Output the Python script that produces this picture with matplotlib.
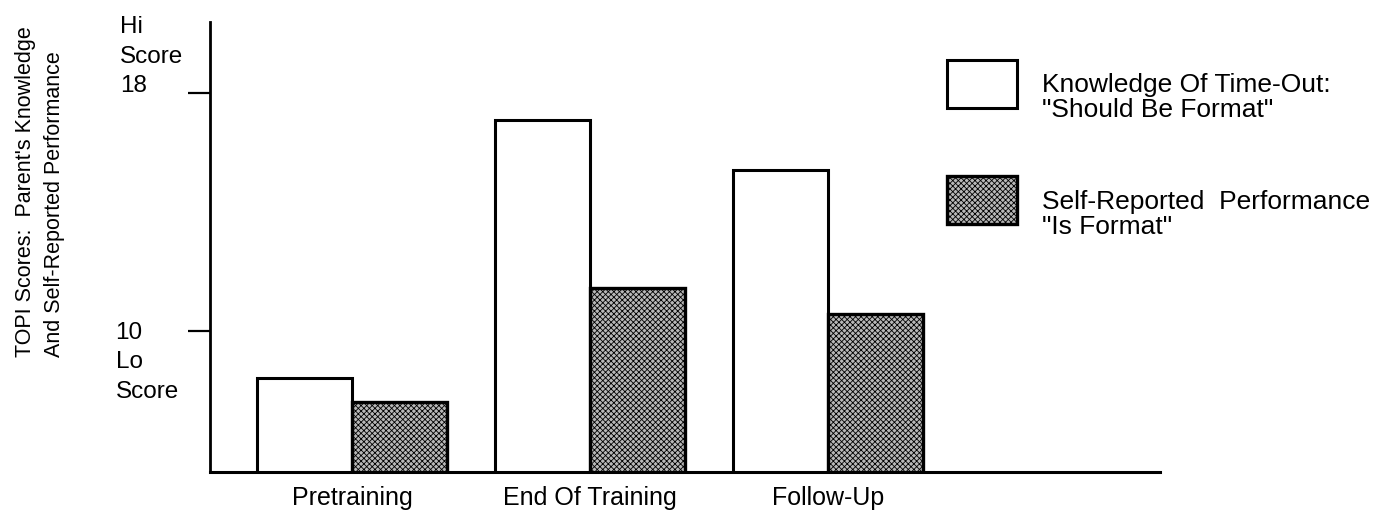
import numpy as np
import matplotlib
matplotlib.use("Agg")
import matplotlib.pyplot as plt
from matplotlib.patches import Rectangle
from matplotlib.legend_handler import HandlerPatch

plt.rcParams['font.family'] = ['Liberation Sans', 'DejaVu Sans']
plt.rcParams['hatch.linewidth'] = 0.6
plt.rcParams['hatch.color'] = '#333333'

# data
phases = ["Pretraining", "End Of Training", "Follow-Up"]
should_be = [8.4, 17.1, 15.4]   # knowledge of time-out
is_format = [7.6, 11.45, 10.55]  # self-reported performance
series_labels = ['Knowledge Of Time-Out:\n"Should Be Format"',
                 'Self-Reported  Performance\n"Is Format"']
ytick_vals = [10, 18]
ytick_text = ["10\nLo\nScore", "Hi\nScore\n18"]

fig = plt.figure(figsize=(13.9, 5.19), dpi=100)
ax = fig.add_axes([210/1390, 47/519, 950/1390, 497/519 - 47/519])

x = np.arange(len(phases))
w = 0.40
b1 = ax.bar(x - w/2, should_be, w, color='white', edgecolor='black',
            linewidth=2.2)
b2 = ax.bar(x + w/2, is_format, w, color='#b8b8b8', edgecolor='black',
            linewidth=2.4, hatch='xxxxxx')

ax.set_xlim(-0.597, 3.395)
ax.set_ylim(5.24, 20.4)

for s in ['top', 'right']:
    ax.spines[s].set_visible(False)
ax.spines['left'].set_linewidth(2)
ax.spines['bottom'].set_linewidth(2.2)

ax.set_xticks(x)
ax.set_xticklabels(phases, fontsize=18)
ax.tick_params(axis='x', length=0, pad=10)

ax.set_yticks(ytick_vals)
ax.set_yticklabels([])
ax.tick_params(axis='y', direction='out', length=16, width=1.6)

# multi-line tick labels placed next to ticks
ax.annotate(ytick_text[0], xy=(0, ytick_vals[0]), xycoords=('axes fraction', 'data'),
            xytext=(-68, 6.5), textcoords='offset points', ha='left', va='top',
            fontsize=17.5, linespacing=1.45)
ax.annotate(ytick_text[1], xy=(0, ytick_vals[1]), xycoords=('axes fraction', 'data'),
            xytext=(-65, -3), textcoords='offset points', ha='left', va='bottom',
            fontsize=17.5, linespacing=1.45)

fig.text(40/1390, 1 - 192/519, "TOPI Scores:  Parent's Knowledge\nAnd Self-Reported Performance",
         rotation=90, ha='center', va='center', multialignment='left', fontsize=15.5,
         linespacing=1.5)


def raised_box(legend, orig_handle, xdescent, ydescent, width, height, fontsize):
    # legend box sits higher than the centre of its two text lines
    return Rectangle((-xdescent, -ydescent + 11), width, height)


leg = ax.legend([b1[0], b2[0]], series_labels, loc='upper left',
                bbox_to_anchor=(947/1390, 1 - 73/519),
                bbox_transform=fig.transFigure, frameon=False, fontsize=19,
                handlelength=2.65, handleheight=2.42, handletextpad=0.95,
                labelspacing=2.53, borderaxespad=0, borderpad=0,
                handler_map={Rectangle: HandlerPatch(patch_func=raised_box)})
for t in leg.get_texts():
    t.set_linespacing(1.05)

fig.savefig("out.png", dpi=100)
